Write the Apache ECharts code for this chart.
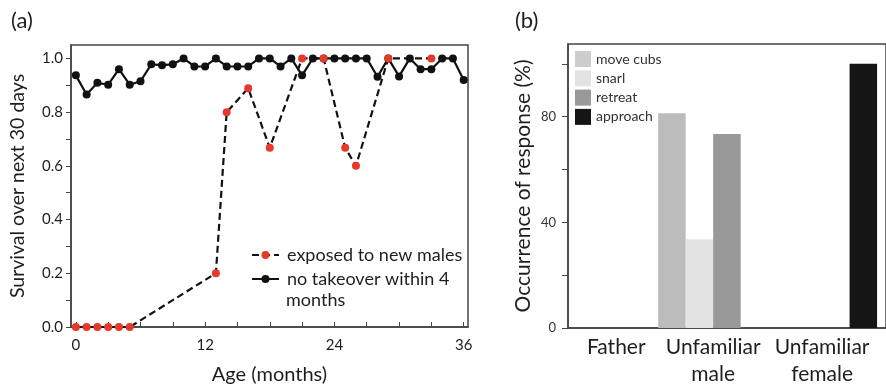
<!DOCTYPE html>
<html>
<head>
<meta charset="utf-8">
<script src="https://cdn.jsdelivr.net/npm/echarts@6/dist/echarts.min.js"></script>
<style>html,body{margin:0;padding:0;background:#fff}#c{width:886px;height:390px}</style>
</head>
<body>
<div id="c"></div>
<script>
// ---- Panel (a) data ----
const monthsA = [0,1,2,3,4,5,6,7,8,9,10,11,12,13,14,15,16,17,18,19,20,21,22,23,24,25,26,27,28,29,30,31,32,33,34,35,36];
const noTakeover = [0.937,0.866,0.909,0.902,0.960,0.902,0.915,0.978,0.975,0.978,1.0,0.97,0.97,1.0,0.97,0.97,0.97,1.0,1.0,0.97,1.0,0.937,1.0,1.0,1.0,1.0,1.0,1.0,0.932,1.0,0.933,1.0,0.96,0.96,1.0,1.0,0.92];
const exposedMonths = [0,1,2,3,4,5,13,14,16,18,21,23,25,26,29,33];
const exposedValues = [0,0,0,0,0,0,0.2,0.8,0.889,0.667,1.0,1.0,0.667,0.6,1.0,1.0];
const xTicksA = [0,3,6,9,12,15,18,21,24,27,30,33,36];
const xLabelsA = [0,12,24,36];
const yTicksA = [0,0.1,0.2,0.3,0.4,0.5,0.6,0.7,0.8,0.9,1.0];
const yLabelsA = [0,0.2,0.4,0.6,0.8,1.0];
const nameExposed = 'exposed to new males';
const nameNoTakeover = 'no takeover within 4';
const nameNoTakeover2 = 'months';

// ---- Panel (b) data ----
const categoriesB = ['Father', 'Unfamiliar\nmale', 'Unfamiliar\nfemale'];
const responses = ['move cubs', 'snarl', 'retreat', 'approach'];
const moveCubs = [0, 81.3, 0];
const snarl = [0, 33.6, 0];
const retreat = [0, 73.4, 0];
const approach = [0, 0, 100];
const yTicksB = [0,20,40,60,80,100];
const yLabelsB = [0,40,80];

const FONT = 'Lato';
const TXT = '#1e1e1e';
const AX = '#444';
const RED = '#e5392b';
const barColors = ['#bcbcbc', '#e3e3e3', '#999999', '#151515'];
const legendColorsB = ['#cdcdcd', '#e3e3e3', '#999999', '#151515'];
const catLabelStyles = ['f', 'c', 'c'];

const seriesB = [moveCubs, snarl, retreat, approach].map((vals, i) => ({
  name: responses[i],
  type: 'bar',
  xAxisIndex: 1, yAxisIndex: 1,
  barWidth: 27.5,
  barGap: '0%',
  itemStyle: { color: barColors[i] },
  data: vals.map((v, k) => [k, v])
}));

const chart = echarts.init(document.getElementById('c'), null, { renderer: 'canvas' });
chart.setOption({
  animation: false,
  textStyle: { fontFamily: FONT },
  title: [
    { text: '(a)', left: 6, top: 5, textStyle: { fontFamily: FONT, fontSize: 22, fontWeight: 'normal', color: TXT } },
    { text: '(b)', left: 510, top: 5, textStyle: { fontFamily: FONT, fontSize: 22, fontWeight: 'normal', color: TXT } }
  ],
  grid: [
    { left: 71, right: 418, top: 45, bottom: 62, show: true, borderColor: AX, borderWidth: 1.5, backgroundColor: 'transparent' },
    { left: 568, right: -2, top: 44, bottom: 62, show: true, borderColor: AX, borderWidth: 1.5, backgroundColor: 'transparent' }
  ],
  xAxis: [
    {
      type: 'value', gridIndex: 0, min: -0.45, max: 36.4,
      name: 'Age (months)', nameLocation: 'middle', nameGap: 38,
      nameTextStyle: { fontFamily: FONT, fontSize: 20, color: TXT },
      axisLine: { show: true, onZero: false, lineStyle: { color: AX, width: 1.5 } },
      axisTick: { show: true, inside: true, length: 5, customValues: xTicksA, lineStyle: { color: AX, width: 1 } },
      axisLabel: { customValues: xLabelsA, margin: 11, fontFamily: FONT, fontSize: 15, color: TXT },
      splitLine: { show: false }
    },
    {
      type: 'value', gridIndex: 1, min: -0.333, max: 2.587,
      axisLine: { show: true, onZero: false, lineStyle: { color: AX, width: 1.5 } },
      axisTick: { show: false },
      axisLabel: {
        customValues: [0, 1, 2],
        formatter: v => { const k = Math.round(v); return '{' + catLabelStyles[k] + '|' + categoriesB[k] + '}'; },
        margin: 6,
        rich: {
          f: { fontFamily: FONT, fontSize: 21, lineHeight: 27, color: TXT, padding: [0, 0, 0, 24] },
          c: { fontFamily: FONT, fontSize: 21, lineHeight: 27, color: TXT }
        },
        fontFamily: FONT, fontSize: 21, lineHeight: 27, color: TXT
      },
      splitLine: { show: false }
    }
  ],
  yAxis: [
    {
      type: 'value', gridIndex: 0, min: 0, max: 1.05,
      name: 'Survival over next 30 days', nameLocation: 'middle', nameGap: 43,
      nameTextStyle: { fontFamily: FONT, fontSize: 19.5, color: TXT },
      axisLine: { show: true, onZero: false, lineStyle: { color: AX, width: 1.5 } },
      axisTick: { show: true, inside: false, length: 5, customValues: yTicksA, lineStyle: { color: AX, width: 1 } },
      axisLabel: { customValues: yLabelsA, formatter: v => v.toFixed(1), margin: 8, fontFamily: FONT, fontSize: 15, color: TXT },
      splitLine: { show: false }
    },
    {
      type: 'value', gridIndex: 1, min: 0, max: 107.5,
      name: 'Occurrence of response (%)', nameLocation: 'middle', nameGap: 34,
      nameTextStyle: { fontFamily: FONT, fontSize: 21, color: TXT },
      axisLine: { show: true, onZero: false, lineStyle: { color: AX, width: 1.5 } },
      axisTick: { show: true, inside: false, length: 6, customValues: yTicksB, lineStyle: { color: AX, width: 1 } },
      axisLabel: { customValues: yLabelsB, margin: 12, fontFamily: FONT, fontSize: 13, color: '#333' },
      splitLine: { show: false }
    }
  ],
  legend: [
    {
      orient: 'vertical', left: 251, top: 246, padding: 0,
      itemWidth: 27, itemHeight: 10, itemGap: 6,
      textStyle: { fontFamily: FONT, fontSize: 18, color: TXT, lineHeight: 18, padding: [0, 0, 0, 3] },
      data: [nameExposed, nameNoTakeover]
    },
    {
      orient: 'vertical', left: 575, top: 51, icon: 'rect', padding: 0,
      itemWidth: 16, itemHeight: 16, itemGap: 3.3,
      textStyle: { fontFamily: FONT, fontSize: 14, color: '#333' },
      data: responses.map((r, i) => ({ name: r, itemStyle: { color: legendColorsB[i] } }))
    }
  ],
  graphic: [
    { type: 'text', left: 286, top: 291, style: { text: nameNoTakeover2, font: '18px ' + FONT, fill: TXT } }
  ],
  series: [
    {
      name: nameNoTakeover, type: 'line', xAxisIndex: 0, yAxisIndex: 0,
      symbol: 'circle', symbolSize: 8,
      lineStyle: { color: '#111', width: 2.2 },
      itemStyle: { color: '#111' },
      z: 2,
      data: monthsA.map((m, i) => [m, noTakeover[i]])
    },
    {
      name: nameExposed, type: 'line', xAxisIndex: 0, yAxisIndex: 0,
      symbol: 'circle', symbolSize: 8,
      lineStyle: { color: '#111', width: 2.2, type: [7, 4] },
      itemStyle: { color: RED },
      z: 3,
      data: exposedMonths.map((m, i) => [m, exposedValues[i]])
    }
  ].concat(seriesB)
});
</script>
</body>
</html>
